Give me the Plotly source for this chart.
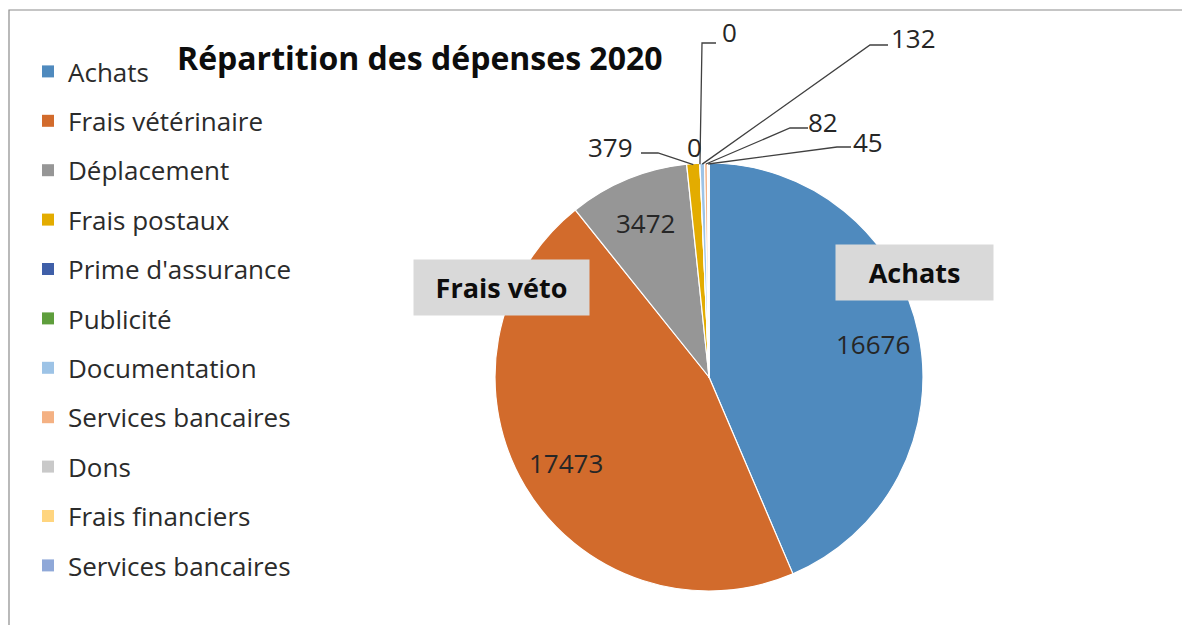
import math
import plotly.graph_objects as go

# chart data
categories = ["Achats", "Frais vétérinaire", "Déplacement", "Frais postaux",
              "Prime d'assurance", "Publicité", "Documentation",
              "Services bancaires", "Dons", "Frais financiers", "Services bancaires"]
values = [16676, 17473, 3472, 379, 0, 0, 132, 82, 45, None, None]
colors = ["#4F8ABE", "#D26B2C", "#969696", "#E3AC00", "#3F5FA8", "#5E9E3C",
          "#9DC3E6", "#F4B183", "#C9C9C9", "#FFD57F", "#8FA8D8"]
callouts = {"Achats": "Achats", "Frais vétérinaire": "Frais véto"}
title = "Répartition des dépenses 2020"

# page geometry (pixels, as seen in the browser; the page body adds an 8px margin)
W, H = 1190, 625
OFF = 8
CX, CY, R = 709, 377, 214
FONT = "Open Sans"
TXT = "#262626"


def px(x, y):
    return (x - OFF) / W, 1 - (y - OFF) / H


def on_circle(angle, r):
    a = math.radians(angle)
    return CX + r * math.sin(a), CY - r * math.cos(a)


def label(x, y, text, size, color=TXT, **kw):
    ax_, ay_ = px(x, y)
    return dict(x=ax_, y=ay_, xref="paper", yref="paper", text=text, showarrow=False,
                xanchor="center", yanchor="middle",
                font=dict(family=FONT, size=size, color=color), **kw)


# where the labels of the thin slices sit, with their elbow leader lines
outside = {
    3: dict(text=(610, 147), elbow=(658, 153), end=(641, 153)),
    4: dict(text=(695, 147), elbow=None, end=None),
    5: dict(text=(729, 32), elbow=(702, 43), end=(716, 43)),
    6: dict(text=(913, 38), elbow=(870, 45), end=(888, 45)),
    7: dict(text=(823, 122), elbow=(790, 128), end=(808, 128)),
    8: dict(text=(868, 142), elbow=(837, 147), end=(851, 147)),
}
callout_boxes = {"Achats": (914, 272, 155, 53), "Frais vétérinaire": (501, 288, 173, 53)}

fig = go.Figure()

x0, y0 = px(CX - R, CY + R)
x1, y1 = px(CX + R, CY - R)
fig.add_trace(go.Pie(
    labels=[str(i) for i in range(len(categories))],
    values=[v or 0 for v in values],
    text=categories,
    hovertemplate="%{text}: %{value}<extra></extra>",
    textinfo="none",
    sort=False,
    direction="clockwise",
    rotation=0,
    marker=dict(colors=colors, line=dict(color="white", width=1.2)),
    domain=dict(x=[x0, x1], y=[y0, y1]),
    showlegend=False,
))

# legend entries (one group each so that the spacing can be set)
for i, (cat, col) in enumerate(zip(categories, colors)):
    fig.add_trace(go.Scatter(
        x=[None], y=[None], mode="markers", name=cat, legendgroup=f"g{i}",
        marker=dict(symbol="square", size=12, color=col),
    ))

total = sum(v for v in values if v is not None)
annotations = []
shapes = []
start = 0.0
for i, (cat, v) in enumerate(zip(categories, values)):
    if v is None:
        continue
    span = v / total * 360
    mid = start + span / 2
    start += span
    if i in outside:
        spec = outside[i]
        annotations.append(label(*spec["text"], str(v), 26))
        if spec["elbow"]:
            ex, ey = on_circle(mid, R - 1)
            p = [px(ex, ey), px(*spec["elbow"]), px(*spec["end"])]
            path = "M {} {} L {} {} L {} {}".format(p[0][0], p[0][1], p[1][0], p[1][1],
                                                    p[2][0], p[2][1])
            shapes.append(dict(type="path", xref="paper", yref="paper", path=path,
                               line=dict(color="#404040", width=1.3)))
    else:
        lx, ly = on_circle(mid, 0.78 * R)
        annotations.append(label(lx, ly, str(v), 26))
    if cat in callout_boxes:
        bx, by, bw, bh = callout_boxes[cat]
        annotations.append(label(bx, by, "<b>" + callouts[cat] + "</b>", 27, "#0D0D0D",
                                 width=bw, height=bh, bgcolor="#D9D9D9"))

annotations.append(label(420, 58, "<b>" + title + "</b>", 32, "#0D0D0D"))

# chart frame
fx, fy = px(9, 10)
shapes.append(dict(type="rect", xref="paper", yref="paper", x0=fx, y0=fy, x1=1.05, y1=-0.05,
                   line=dict(color="#8C8C8C", width=1.2), fillcolor="rgba(0,0,0,0)"))

lx, ly = px(28, 48)
fig.update_layout(
    width=W, height=H,
    margin=dict(l=0, r=0, t=0, b=0),
    paper_bgcolor="white", plot_bgcolor="white",
    xaxis=dict(visible=False), yaxis=dict(visible=False),
    legend=dict(x=lx, y=ly, xanchor="left", yanchor="top", tracegroupgap=12.6,
                font=dict(family=FONT, size=26, color="#2B2B2B"),
                bgcolor="rgba(0,0,0,0)", itemclick=False),
    annotations=annotations,
    shapes=shapes,
)

fig.write_html("out.html")
